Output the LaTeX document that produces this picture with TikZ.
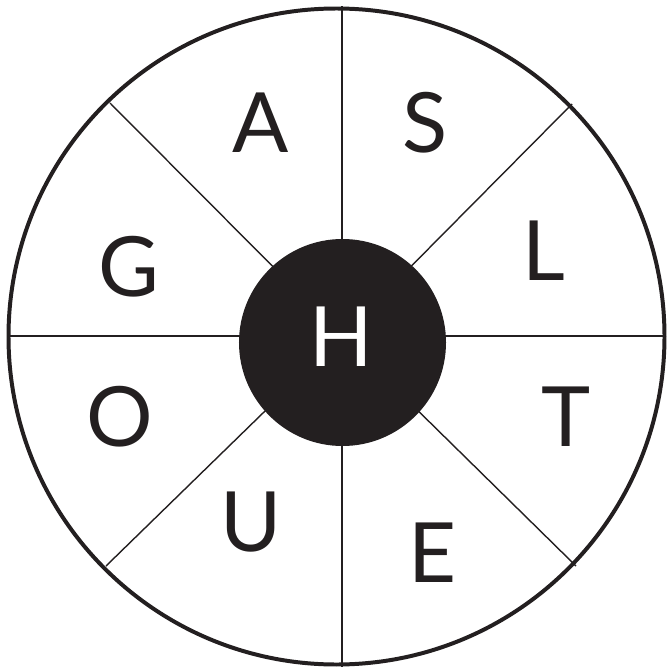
\documentclass[tikz,border=0pt]{standalone}
\usepackage{fontspec}
\setmainfont{Lato}
\usepackage{xcolor}
\definecolor{inkblack}{RGB}{35,31,32}

\begin{document}
\begin{tikzpicture}[x=0.03cm, y=-0.03cm,
  spoke/.style={line width=1.2pt, color=inkblack},
  rim/.style={line width=3.4pt, color=inkblack},
  hub/.style={circle, fill=inkblack, minimum size=6.21cm, inner sep=0pt},
  letter/.style={inner sep=0pt, text=inkblack, font=\fontsize{71}{71}\selectfont}]
\useasboundingbox (0,0) rectangle (666,671);

 %spokes
 \coordinate (c) at (342,336);
 \coordinate (top) at (342,6);
 \coordinate (bottom) at (342,667);
 \coordinate (left) at (10,336);
 \coordinate (right) at (663,336);
 \coordinate (tl) at (110,103);
 \coordinate (tr) at (572,104);
 \coordinate (bl) at (106,566);
 \coordinate (br) at (576,566);
 \draw[spoke] (c) -- (top);
 \draw[spoke] (c) -- (bottom);
 \draw[spoke] (c) -- (left);
 \draw[spoke] (c) -- (right);
 \draw[spoke] (c) -- (tl);
 \draw[spoke] (c) -- (tr);
 \draw[spoke] (c) -- (bl);
 \draw[spoke] (c) -- (br);

 %rim and hub
 \draw[rim] (336.5,336.5) circle (328);
 \node[hub] (hub) at (342.5,342.5) {};
 \node[letter, text=white] (h) at (341,337) {H};

 %letters
 \node[letter] (a) at (261,123) {A};
 \node[letter] (s) at (425,123) {S};
 \node[letter] (l) at (544,251) {L};
 \node[letter] (g) at (129,267) {G};
 \node[letter] (o) at (120,417) {O};
 \node[letter] (t) at (566,417) {T};
 \node[letter] (u) at (251,522) {U};
 \node[letter] (e) at (433,553) {E};
\end{tikzpicture}
\end{document}
